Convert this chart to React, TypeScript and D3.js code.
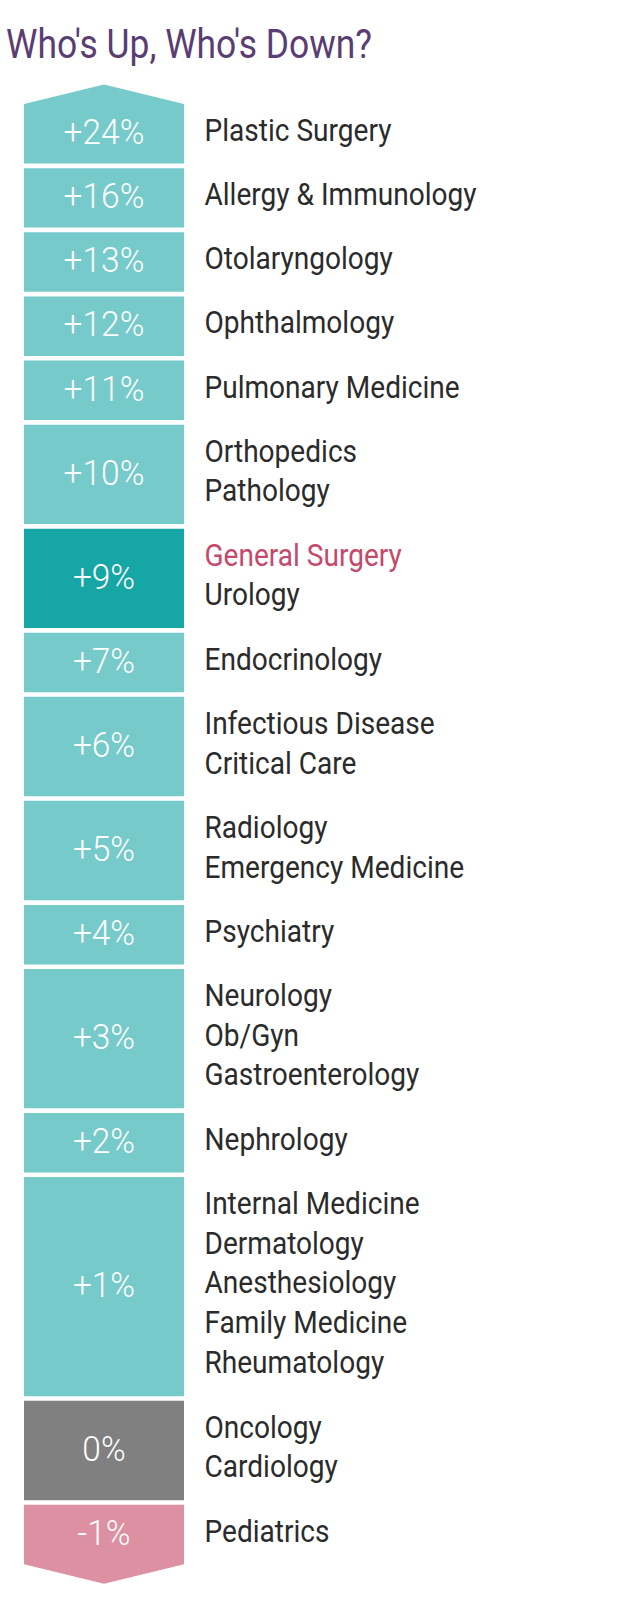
import React from "react";
import * as d3 from "d3";

const TITLE = "Who's Up, Who's Down?";
const VALUES: number[] = [24, 16, 13, 12, 11, 10, 9, 7, 6, 5, 4, 3, 2, 1, 0, -1];
const SPECIALTIES: string[][] = [
  ["Plastic Surgery"],
  ["Allergy & Immunology"],
  ["Otolaryngology"],
  ["Ophthalmology"],
  ["Pulmonary Medicine"],
  ["Orthopedics", "Pathology"],
  ["General Surgery", "Urology"],
  ["Endocrinology"],
  ["Infectious Disease", "Critical Care"],
  ["Radiology", "Emergency Medicine"],
  ["Psychiatry"],
  ["Neurology", "Ob/Gyn", "Gastroenterology"],
  ["Nephrology"],
  ["Internal Medicine", "Dermatology", "Anesthesiology", "Family Medicine", "Rheumatology"],
  ["Oncology", "Cardiology"],
  ["Pediatrics"],
];
const HIGHLIGHT: string[] = ["General Surgery"];

const C_UP = "#76caca";
const C_HL = "#17a6a6";
const C_ZERO = "#808080";
const C_DOWN = "#dd90a1";
const C_TEXT = "#2b2b2b";
const C_HL_TEXT = "#c4496b";
const C_TITLE = "#5a3d72";

const FONT = "Roboto, 'Noto Sans', sans-serif";

export default function App() {
  const W = 640;
  const H = 1608;
  const x0 = 24;
  const x1 = 184;
  const top = 104;
  const bottom = 1564.3;
  const arrow = 19.5;
  const PAD = 0.491; // in line units
  const GAP = 0.1165;

  const starts: number[] = [];
  let acc = 0;
  SPECIALTIES.forEach((s, i) => {
    starts.push(acc);
    acc += s.length + PAD + (i < SPECIALTIES.length - 1 ? GAP : 0);
  });
  const total = acc;
  const y = d3.scaleLinear().domain([0, total]).range([top, bottom]);

  const fmt = (v: number) => (v > 0 ? `+${v}%` : `${v}%`);
  const color = (v: number, i: number) => {
    if (v < 0) return C_DOWN;
    if (v === 0) return C_ZERO;
    if (SPECIALTIES[i].some((s) => HIGHLIGHT.includes(s))) return C_HL;
    return C_UP;
  };

  const cx = (x0 + x1) / 2;
  const valueSize = 36;
  const labelSize = 30.5;
  const lineH = 39.7;

  return (
    <svg
      width={W}
      height={H}
      style={{ position: "absolute", left: 0, top: 0, background: "#fff" }}
      fontFamily={FONT}
    >
      <text
        transform={`translate(6,57.5) scale(0.885,1)`}
        fontSize={40}
        fill={C_TITLE}
      >
        {TITLE}
      </text>
      {VALUES.map((v, i) => {
        const n = SPECIALTIES[i].length;
        const yt = y(starts[i]);
        const yb = y(starts[i] + n + PAD);
        let d: string;
        if (i === 0) {
          d = `M${x0},${yt} L${cx},${yt - arrow} L${x1},${yt} L${x1},${yb} L${x0},${yb} Z`;
        } else if (i === VALUES.length - 1) {
          d = `M${x0},${yt} L${x1},${yt} L${x1},${yb} L${cx},${yb + arrow} L${x0},${yb} Z`;
        } else {
          d = `M${x0},${yt} L${x1},${yt} L${x1},${yb} L${x0},${yb} Z`;
        }
        const yc = (yt + yb) / 2;
        return (
          <g key={i}>
            <path d={d} fill={color(v, i)} />
            <text
              transform={`translate(${cx},${yc + 10.3}) scale(0.93,1)`}
              textAnchor="middle"
              fontSize={valueSize}
              fontWeight={300}
              fill="#fff"
            >
              {fmt(v)}
            </text>
            {SPECIALTIES[i].map((s, j) => (
              <text
                key={j}
                transform={`translate(204.5,${yt + 37 + j * lineH}) scale(0.92,1)`}
                fontSize={labelSize}
                fill={HIGHLIGHT.includes(s) ? C_HL_TEXT : C_TEXT}
              >
                {s}
              </text>
            ))}
          </g>
        );
      })}
    </svg>
  );
}
